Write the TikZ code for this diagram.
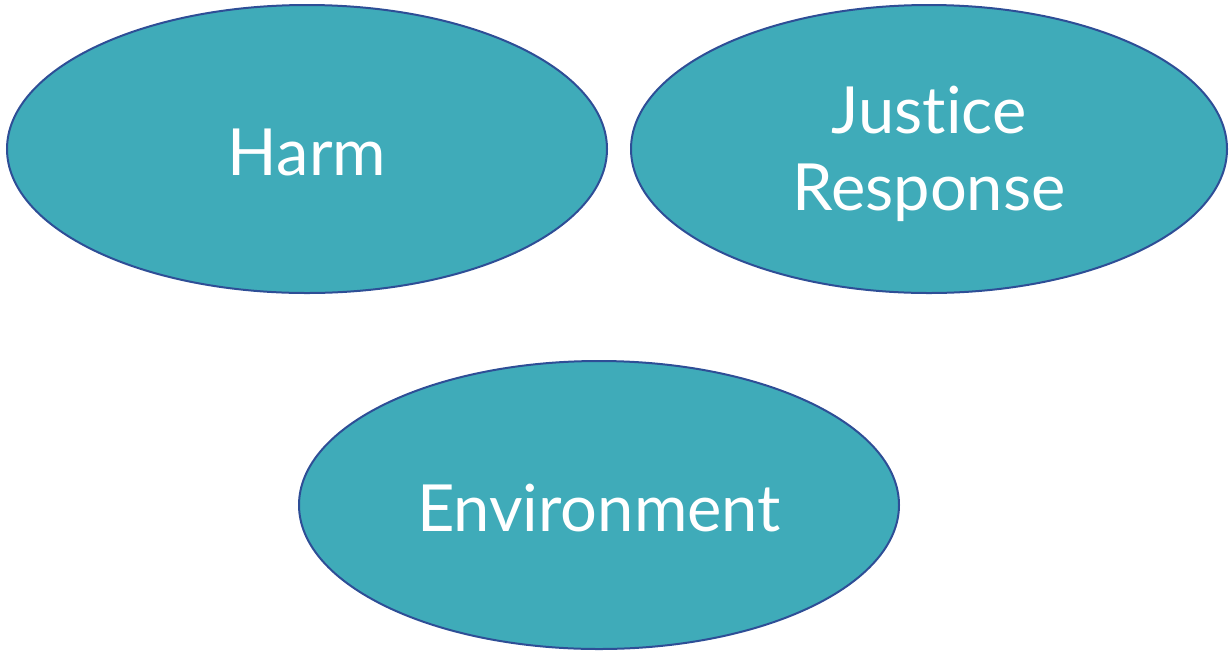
\documentclass[tikz,border=0pt]{standalone}
\usepackage{fontspec}
\setmainfont[Ligatures=NoCommon,Contextuals=NoAlternate]{Lato}
\usetikzlibrary{shapes.geometric}
\definecolor{tealfill}{HTML}{3FABB9}
\definecolor{edgeblue}{HTML}{2E4E96}
\tikzset{
  bubble/.style={ellipse, draw=edgeblue, line width=2pt, fill=tealfill,
    minimum width=600pt, minimum height=288pt, inner sep=0pt},
  bubbletext/.style={text=white, align=center, inner sep=0pt,
    font=\fontsize{65}{77}\selectfont, yshift=-3pt}
}
\begin{document}
\begin{tikzpicture}[x=1pt,y=-1pt]
\useasboundingbox (0,0) rectangle (1229,657);
\node[bubble] (harm) at (307,149) {};
\node[bubble, minimum width=596pt] (justice) at (929,149) {};
\node[bubble] (env) at (599,505) {};
\node[bubbletext] (harmtext) at (harm.center) {Harm};
\node[bubbletext, yshift=-2pt] (justicetext) at (justice.center) {Just\kern0pt ice\\Response};
\node[bubbletext] (envtext) at (env.center) {Environment};
\end{tikzpicture}
\end{document}
